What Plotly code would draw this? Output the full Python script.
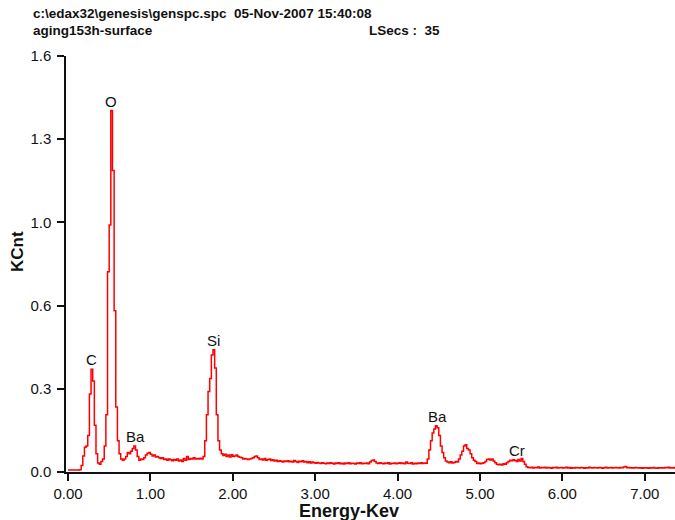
import numpy as np
import plotly.graph_objects as go

# EDS spectrum: channel calibration and counts (KCnt per channel)
CHANNEL_START_KEV = 0.0
CHANNEL_WIDTH_KEV = 0.02

counts_kcnt = [
    # 0.00 - 0.18
    0.008, 0.008, 0.008, 0.008, 0.008, 0.008, 0.008, 0.009, 0.025, 0.062,
    # 0.20 - 0.38  (C K)
    0.095, 0.100, 0.140, 0.300, 0.395, 0.350, 0.180, 0.070, 0.035, 0.030,
    # 0.40 - 0.58  (O K)
    0.040, 0.050, 0.100, 0.220, 0.770, 0.950, 1.390, 1.160, 0.620, 0.250,
    # 0.60 - 0.78
    0.120, 0.070, 0.050, 0.045, 0.050, 0.060, 0.075, 0.070, 0.080, 0.090,
    # 0.80 - 0.98  (Ba M)
    0.100, 0.085, 0.060, 0.045, 0.050, 0.048, 0.055, 0.065, 0.072, 0.075,
    # 1.00 - 1.18
    0.068, 0.062, 0.065, 0.058, 0.060, 0.055, 0.052, 0.055, 0.048, 0.050,
    # 1.20 - 1.38
    0.045, 0.050, 0.047, 0.043, 0.048, 0.045, 0.050, 0.042, 0.046, 0.040,
    # 1.40 - 1.58
    0.052, 0.045, 0.060, 0.048, 0.052, 0.050, 0.055, 0.050, 0.052, 0.050,
    # 1.60 - 1.78  (Si K)
    0.053, 0.050, 0.060, 0.120, 0.220, 0.310, 0.360, 0.450, 0.470, 0.400,
    # 1.80 - 1.98
    0.220, 0.120, 0.085, 0.070, 0.063, 0.068, 0.060, 0.065, 0.058, 0.066,
    # 2.00 - 2.18
    0.060, 0.062, 0.065, 0.060, 0.057, 0.055, 0.050, 0.052, 0.050, 0.048,
    # 2.20 - 2.38
    0.050, 0.052, 0.055, 0.060, 0.062, 0.055, 0.048, 0.050, 0.046, 0.052,
    # 2.40 - 2.58
    0.045, 0.048, 0.050, 0.044, 0.047, 0.042, 0.045, 0.040, 0.043, 0.041,
    # 2.60 - 2.78
    0.038, 0.042, 0.040, 0.043, 0.039, 0.041, 0.038, 0.044, 0.040, 0.037,
    # 2.80 - 2.98
    0.041, 0.039, 0.043, 0.038, 0.040, 0.036, 0.039, 0.035, 0.038, 0.036,
    # 3.00 - 3.18
    0.034, 0.037, 0.035, 0.033, 0.036, 0.034, 0.032, 0.035, 0.033, 0.036,
    # 3.20 - 3.38
    0.034, 0.031, 0.035, 0.033, 0.036, 0.032, 0.034, 0.031, 0.035, 0.033,
    # 3.40 - 3.58
    0.036, 0.032, 0.034, 0.033, 0.031, 0.035, 0.033, 0.036, 0.032, 0.034,
    # 3.60 - 3.78
    0.033, 0.035, 0.032, 0.038, 0.044, 0.046, 0.040, 0.035, 0.033, 0.036,
    # 3.80 - 3.98
    0.034, 0.032, 0.035, 0.033, 0.036, 0.031, 0.034, 0.033, 0.035, 0.032,
    # 4.00 - 4.18
    0.034, 0.036, 0.033, 0.035, 0.032, 0.038, 0.034, 0.033, 0.036, 0.031,
    # 4.20 - 4.38
    0.034, 0.032, 0.035, 0.033, 0.036, 0.033, 0.035, 0.034, 0.050, 0.085,
    # 4.40 - 4.58  (Ba L-alpha)
    0.120, 0.150, 0.165, 0.178, 0.170, 0.140, 0.100, 0.075, 0.055, 0.042,
    # 4.60 - 4.78
    0.038, 0.036, 0.039, 0.035, 0.037, 0.040, 0.038, 0.050, 0.065, 0.080,
    # 4.80 - 4.98  (Ba L-beta)
    0.100, 0.105, 0.090, 0.085, 0.070, 0.055, 0.045, 0.040, 0.033, 0.035,
    # 5.00 - 5.18
    0.032, 0.034, 0.036, 0.040, 0.048, 0.050, 0.046, 0.050, 0.042, 0.036,
    # 5.20 - 5.38
    0.030, 0.028, 0.030, 0.027, 0.032, 0.030, 0.036, 0.040, 0.045, 0.043,
    # 5.40 - 5.58  (Cr K)
    0.047, 0.044, 0.040, 0.048, 0.042, 0.052, 0.040, 0.030, 0.020, 0.017,
    # 5.60 - 5.78
    0.016, 0.018, 0.015, 0.017, 0.016, 0.019, 0.015, 0.017, 0.016, 0.018,
    # 5.80 - 5.98
    0.015, 0.017, 0.016, 0.014, 0.017, 0.016, 0.018, 0.015, 0.016, 0.017,
    # 6.00 - 6.18
    0.015, 0.016, 0.018, 0.015, 0.017, 0.014, 0.016, 0.015, 0.017, 0.016,
    # 6.20 - 6.38
    0.015, 0.017, 0.016, 0.014, 0.016, 0.015, 0.018, 0.016, 0.015, 0.017,
    # 6.40 - 6.58
    0.016, 0.015, 0.017, 0.016, 0.014, 0.016, 0.018, 0.015, 0.016, 0.017,
    # 6.60 - 6.78
    0.015, 0.016, 0.017, 0.016, 0.015, 0.017, 0.016, 0.019, 0.021, 0.016,
    # 6.80 - 6.98
    0.017, 0.015, 0.016, 0.015, 0.017, 0.016, 0.015, 0.016, 0.014, 0.016,
    # 7.00 - 7.18
    0.015, 0.016, 0.014, 0.016, 0.015, 0.017, 0.015, 0.014, 0.016, 0.015,
    # 7.20 - 7.38
    0.016, 0.015, 0.017, 0.016, 0.018, 0.015, 0.016, 0.015, 0.017, 0.016,
]

# Element line labels and the energies they mark
peak_labels = ["C", "O", "Ba", "Si", "Ba", "Cr"]
peak_energies_kev = [0.28, 0.52, 0.82, 1.76, 4.48, 5.45]

# Y axis: equally spaced ticks labelled with one decimal
y_tick_values = [0.0, 0.32, 0.64, 0.96, 1.28, 1.6]
y_tick_text = ["0.0", "0.3", "0.6", "1.0", "1.3", "1.6"]

header_path = "c:\\edax32\\genesis\\genspc.spc\u00a0\u00a005-Nov-2007 15:40:08"
header_sample = "aging153h-surface"
header_lsecs = "LSecs\u00a0:\u00a0\u00a035"

energy = CHANNEL_START_KEV + CHANNEL_WIDTH_KEV * np.arange(len(counts_kcnt))
counts = np.array(counts_kcnt)

FONT = "Arial, 'Liberation Sans', sans-serif"
INK = "#111111"
W, H = 675, 520
M_L, M_R, M_T, M_B = 66, 0, 56, 48
plot_w = W - M_L - M_R
plot_h = H - M_T - M_B


def paper_x(px):
    return (px - M_L) / plot_w


def paper_y(py):
    return (H - M_B - py) / plot_h


fig = go.Figure()
fig.add_trace(go.Scatter(
    x=energy, y=counts, mode="lines",
    line=dict(color="#ff0000", width=1.5, shape="hv"),
    hoverinfo="x+y", showlegend=False,
))

annotations = []
# Peak labels sit just above the local maximum of the spectrum
for label, e in zip(peak_labels, peak_energies_kev):
    window = np.abs(energy - e) <= 0.04
    top = counts[window].max()
    annotations.append(dict(
        x=e, y=top, xref="x", yref="y", text=label, showarrow=False,
        xanchor="center", yanchor="bottom", yshift=-1,
        font=dict(family=FONT, size=15, color=INK),
    ))

# Header lines (tight box so the two lines sit close together)
for text, px, py in [(header_path, 32, 14), (header_sample, 32, 30), (header_lsecs, 368, 30)]:
    annotations.append(dict(
        x=paper_x(px), y=paper_y(py), xref="paper", yref="paper", text=f"<b>{text}</b>",
        showarrow=False, xanchor="left", yanchor="middle", borderpad=0,
        font=dict(family=FONT, size=13.5, color=INK),
    ))

# Axis titles
annotations.append(dict(
    x=paper_x(17), y=paper_y(252), xref="paper", yref="paper", text="<b>KCnt</b>",
    showarrow=False, textangle=-90, xanchor="center", yanchor="middle",
    font=dict(family=FONT, size=17, color=INK),
))
annotations.append(dict(
    x=paper_x(349), y=paper_y(511), xref="paper", yref="paper", text="<b>Energy-Kev</b>",
    showarrow=False, xanchor="center", yanchor="middle",
    font=dict(family=FONT, size=18, color=INK),
))

fig.update_layout(
    width=W, height=H,
    margin=dict(l=M_L, r=M_R, t=M_T, b=M_B, pad=0),
    paper_bgcolor="white", plot_bgcolor="white",
    font=dict(family=FONT, size=15, color=INK),
    annotations=annotations,
    xaxis=dict(
        range=[-0.024, 7.367], tickmode="linear", tick0=0, dtick=1, tickformat=".2f",
        showgrid=False, zeroline=False, showline=True, linecolor=INK, linewidth=1.5,
        ticks="outside", ticklen=7, tickwidth=1.5, tickcolor=INK,
        tickfont=dict(family=FONT, size=15, color=INK), ticklabelstandoff=0,
    ),
    yaxis=dict(
        range=[0, 1.6], tickmode="array", tickvals=y_tick_values, ticktext=y_tick_text,
        showgrid=False, zeroline=False, showline=True, linecolor=INK, linewidth=1.5,
        ticks="outside", ticklen=7, tickwidth=1.5, tickcolor=INK,
        tickfont=dict(family=FONT, size=15, color=INK), ticklabelstandoff=3,
    ),
)

fig.write_html("out.html")
